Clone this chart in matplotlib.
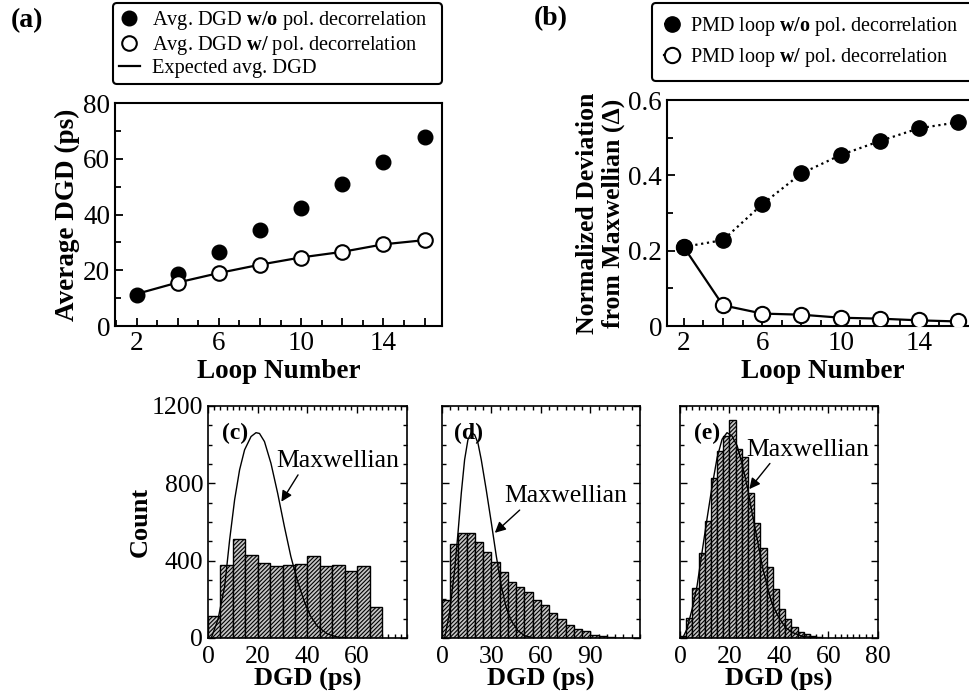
import numpy as np
import matplotlib
matplotlib.use("Agg")
import matplotlib.pyplot as plt
from matplotlib.ticker import MultipleLocator, FuncFormatter

plt.rcParams['font.family'] = 'Liberation Serif'
plt.rcParams['mathtext.fontset'] = 'custom'
plt.rcParams['mathtext.rm'] = 'Liberation Serif'
plt.rcParams['mathtext.bf'] = 'Liberation Serif:bold'
plt.rcParams['hatch.linewidth'] = 0.8

# ── (a) average DGD vs loop number ────────────────────────────────────────────
loops_a      = [2, 4, 6, 8, 10, 12, 14, 16]
dgd_wo       = [11.1, 18.6, 26.4, 34.4, 42.5, 50.9, 58.9, 67.9]
loops_a_w    = [4, 6, 8, 10, 12, 14, 16]
dgd_w        = [15.5, 18.9, 21.9, 24.5, 26.4, 29.3, 30.8]
expected_dgd = [11.5, 15.6, 19.0, 22.0, 24.6, 26.6, 29.3, 30.8]

# ── (b) normalized deviation from Maxwellian ─────────────────────────────────
loops_b  = [2, 4, 6, 8, 10, 12, 14, 16]
delta_wo = [0.210, 0.228, 0.323, 0.405, 0.454, 0.491, 0.525, 0.541]
delta_w  = [0.210, 0.055, 0.033, 0.030, 0.022, 0.0195, 0.015, 0.012]

# ── (c)-(e) DGD histograms (bins start at 0) ─────────────────────────────────
bin_c    = 5.0
counts_c = [112, 379, 513, 430, 387, 374, 379, 384, 425, 374, 379, 344, 370, 160]
maxw_c_x = [1.3, 4.0, 6.7, 8.7, 10.7, 12.7, 14.7, 17.3, 19.3, 20.7, 22.7, 25.3,
            28.0, 30.7, 33.3, 36.0, 38.7, 41.3, 44.0, 48.0, 52.0, 56.0]
maxw_c_y = [0, 95, 267, 508, 715, 870, 973, 1042, 1062, 1058, 1016, 904,
            749, 577, 422, 293, 189, 112, 60, 21, 5, 0]

bin_d    = 5.0
counts_d = [199, 484, 544, 544, 498, 446, 395, 343, 292, 266, 240, 196, 170,
            127, 98, 69, 46, 34, 17, 9, 5, 2]
maxw_d_x = [1.6, 4.6, 7.7, 9.7, 11.7, 13.7, 15.7, 17.8, 19.8, 21.8, 23.8, 26.8,
            29.9, 32.9, 35.9, 38.9, 42.0, 46.0, 50.0, 56.0]
maxw_d_y = [0, 132, 355, 544, 750, 922, 1025, 1062, 1051, 1008, 922, 767,
            596, 424, 270, 158, 89, 38, 12, 0]

bin_e    = 2.5
counts_e = [10, 102, 257, 441, 605, 826, 967, 1045, 1126, 979, 938, 752, 597,
            464, 367, 255, 148, 96, 59, 31, 19, 10, 3]
maxw_e_x = [1.1, 2.8, 4.9, 6.9, 8.9, 10.9, 13.0, 15.0, 17.0, 19.0, 21.0, 23.1,
            25.1, 27.1, 29.1, 31.2, 33.2, 35.2, 37.2, 39.9, 42.6, 45.3, 49.4, 54.8]
maxw_e_y = [0, 46, 150, 270, 443, 615, 787, 933, 1028, 1062, 1045, 994,
            899, 787, 649, 511, 374, 270, 176, 107, 55, 29, 9, 0]

W, H = 970, 696
fig = plt.figure(figsize=(W / 100, H / 100), dpi=100)

def px_axes(left, top, right, bottom):
    return fig.add_axes([left / W, 1 - bottom / H, (right - left) / W, (bottom - top) / H])

def style_axes(ax, lw=1.5):
    for s in ax.spines.values():
        s.set_linewidth(lw)

ax_a = px_axes(115, 103, 442, 326)
ax_b = px_axes(667, 100, 978, 326)
ax_c = px_axes(208, 406, 407, 638)
ax_d = px_axes(442, 406, 640, 638)
ax_e = px_axes(680, 406, 878, 638)

loop_fmt = FuncFormatter(lambda v, p: f"{v:.0f}" if int(round(v)) in (2, 6, 10, 14) else "")

# ── panel (a) ────────────────────────────────────────────────────────────────
ax = ax_a
h_exp, = ax.plot(loops_a, expected_dgd, '-', color='black', lw=1.6, zorder=2)
h_wo, = ax.plot(loops_a, dgd_wo, 'o', color='black', ms=10.5, zorder=3)
h_w, = ax.plot(loops_a_w, dgd_w, 'o', mfc='white', mec='black', mew=1.5, ms=10.5, zorder=4)
ax.set_xlim(0.95, 16.85)
ax.set_ylim(0, 80)
ax.xaxis.set_major_locator(MultipleLocator(2))
ax.xaxis.set_minor_locator(MultipleLocator(1))
ax.xaxis.set_major_formatter(loop_fmt)
ax.yaxis.set_major_locator(MultipleLocator(20))
ax.yaxis.set_minor_locator(MultipleLocator(10))
ax.tick_params(which='both', direction='in', labelsize=19.5, width=1.3)
ax.tick_params(which='major', length=6)
ax.tick_params(which='minor', length=4)
ax.set_xlabel("Loop Number", fontsize=19.5, fontweight='bold', labelpad=2)
ax.set_ylabel("Average DGD (ps)", fontsize=19.5, fontweight='bold', labelpad=2)
style_axes(ax)
leg = ax.legend([h_wo, h_w, h_exp],
                [r"Avg. DGD $\mathbf{w/o}$ pol. decorrelation",
                 r"Avg. DGD $\mathbf{w/}$ pol. decorrelation",
                 "Expected avg. DGD"],
                loc='upper left', bbox_to_anchor=(113 / W, 1 - 3 / H, 329 / W, 0.0),
                bbox_transform=fig.transFigure, mode='expand', fontsize=14.7,
                handlelength=1.0, handletextpad=0.6, labelspacing=0.08,
                borderpad=0.3, borderaxespad=0, framealpha=1, edgecolor='black',
                fancybox=True)
leg.get_frame().set_linewidth(1.5)

# ── panel (b) ────────────────────────────────────────────────────────────────
ax = ax_b
h_bw, = ax.plot(loops_b, delta_w, '-o', color='black', mfc='white', mec='black',
                mew=1.5, ms=11, lw=1.6, zorder=3)
h_bwo, = ax.plot(loops_b, delta_wo, ':o', color='black', ms=11, lw=1.6, zorder=4)
ax.set_xlim(1.15, 17.0)
ax.set_ylim(0, 0.6)
ax.xaxis.set_major_locator(MultipleLocator(2))
ax.xaxis.set_minor_locator(MultipleLocator(1))
ax.xaxis.set_major_formatter(loop_fmt)
ax.yaxis.set_major_locator(MultipleLocator(0.2))
ax.yaxis.set_minor_locator(MultipleLocator(0.1))
ax.yaxis.set_major_formatter(FuncFormatter(lambda v, p: "0" if v == 0 else f"{v:.1f}"))
ax.tick_params(which='both', direction='in', labelsize=19.5, width=1.3)
ax.tick_params(which='major', length=6)
ax.tick_params(which='minor', length=4)
ax.set_xlabel("Loop Number", fontsize=19.5, fontweight='bold', labelpad=2)
ax.set_ylabel("Normalized Deviation\nfrom Maxwellian (Δ)", fontsize=18.5,
              fontweight='bold', labelpad=2, linespacing=1.15)
style_axes(ax)
leg = ax.legend([h_bwo, h_bw],
                [r"PMD loop $\mathbf{w/o}$ pol. decorrelation",
                 r"PMD loop $\mathbf{w/}$ pol. decorrelation"],
                loc='upper left', bbox_to_anchor=(652 / W, 1 - 3 / H, 360 / W, 0.0),
                bbox_transform=fig.transFigure, mode='expand', fontsize=14.5,
                handlelength=0.8, handletextpad=0.5, labelspacing=0.4,
                borderpad=0.6, borderaxespad=0, framealpha=1, edgecolor='black',
                fancybox=True)
leg.get_frame().set_linewidth(1.5)

fig.text(27 / W, 1 - 21 / H, "(a)", fontsize=20, fontweight='bold', ha='center', va='center')
fig.text(551 / W, 1 - 19 / H, "(b)", fontsize=20, fontweight='bold', ha='center', va='center')

# ── histograms (c)-(e) ───────────────────────────────────────────────────────
hist_panels = [
    (ax_c, bin_c, counts_c, maxw_c_x, maxw_c_y, 80, [0, 20, 40, 60], 2.5, "(c)",
     (10.7, 1060), (52, 915), (29.5, 705), 0.2),
    (ax_d, bin_d, counts_d, maxw_d_x, maxw_d_y, 120, [0, 30, 60, 90], 5, "(d)",
     (16.3, 1060), (75, 733), (32.0, 544), 0.16),
    (ax_e, bin_e, counts_e, maxw_e_x, maxw_e_y, 80, [0, 20, 40, 60, 80], 2.5, "(e)",
     (11.0, 1060), (51.5, 974), (28.0, 770), 0.22),
]

for (ax, bw, counts, mx, my, xmax, xt, xminor, tag, tag_xy, txt_xy, tip_xy, rx) in hist_panels:
    edges = np.arange(len(counts)) * bw
    ax.bar(edges, counts, width=bw, align='edge', facecolor='#c4c4c4',
           edgecolor='black', linewidth=1.0, hatch='////////', zorder=2)
    ax.plot(mx, my, '-', color='black', lw=1.0, zorder=3)
    ax.set_xlim(0, xmax)
    ax.set_ylim(0, 1200)
    ax.set_xticks(xt)
    ax.xaxis.set_minor_locator(MultipleLocator(xminor))
    ax.yaxis.set_major_locator(MultipleLocator(400))
    ax.yaxis.set_minor_locator(MultipleLocator(100))
    ax.tick_params(which='both', direction='in', top=True, right=True,
                   labelsize=18.5, width=1.0)
    ax.tick_params(which='major', length=5)
    ax.tick_params(which='minor', length=3)
    ax.tick_params(axis='x', pad=6)
    ax.set_xlabel("DGD (ps)", fontsize=19, fontweight='bold', labelpad=0)
    style_axes(ax, 1.2)
    ax.text(tag_xy[0], tag_xy[1], tag, fontsize=17, fontweight='bold',
            ha='center', va='center', zorder=5)
    ax.annotate("Maxwellian", xy=tip_xy, xytext=txt_xy, fontsize=18.5,
                ha='center', va='center', zorder=5,
                arrowprops=dict(arrowstyle='-|>', color='black', lw=1.0,
                                mutation_scale=16, relpos=(rx, 0.05),
                                shrinkA=0, shrinkB=0))

ax_c.set_ylabel("Count", fontsize=19, fontweight='bold', labelpad=0)
ax_d.set_yticklabels([])
ax_e.set_yticklabels([])

fig.savefig("out.png", dpi=100)
